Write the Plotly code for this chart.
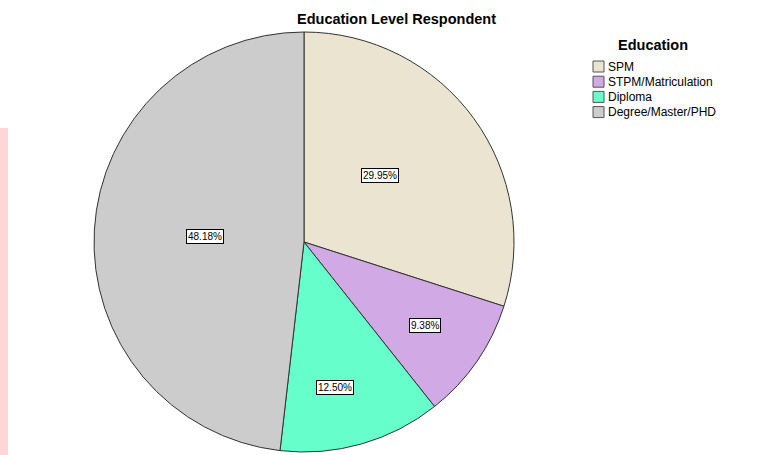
import math
import plotly.graph_objects as go

# Education level of respondents (n = 384)
categories = ["SPM", "STPM/Matriculation", "Diploma", "Degree/Master/PHD"]
counts = [115, 36, 48, 185]
percent_labels = ["29.95%", "9.38%", "12.50%", "48.18%"]
colors = ["#EAE4D0", "#D1A9E4", "#66FFCC", "#CCCCCC"]
# placement of each percentage box: radius as a fraction of the pie radius,
# and a small angular nudge (degrees) away from the slice's middle angle
label_radius = [0.48, 0.70, 0.71, 0.47]
label_nudge = [-5, 0, 4, 0]

W, H = 774, 455
cx, cy, R = 304, 242, 210  # pie centre and radius in pixels
FONT = "Liberation Sans, Arial"

fig = go.Figure(
    go.Pie(
        labels=categories,
        values=counts,
        sort=False,
        direction="clockwise",
        rotation=0,
        textinfo="none",
        hoverinfo="label+percent",
        marker=dict(colors=colors, line=dict(color="#333333", width=1)),
        domain=dict(x=[(cx - R) / W, (cx + R) / W], y=[1 - (cy + R) / H, 1 - (cy - R) / H]),
        showlegend=False,
    )
)

annotations = []
shapes = []

# percentage boxes placed around the middle angle of each slice
total = sum(counts)
start = 0.0
for val, txt, rf, nudge in zip(counts, percent_labels, label_radius, label_nudge):
    frac = val / total
    mid = (start + frac / 2) * 2 * math.pi + math.radians(nudge)
    start += frac
    px = cx + rf * R * math.sin(mid)
    py = cy - rf * R * math.cos(mid)
    annotations.append(dict(
        x=px / W, y=1 - py / H, xref="paper", yref="paper",
        xanchor="center", yanchor="middle",
        text=txt, showarrow=False,
        font=dict(family=FONT, size=10, color="#000000"),
        bgcolor="#FFFFFF", bordercolor="#000000", borderwidth=1, borderpad=1,
    ))

# chart title
annotations.append(dict(
    x=397 / W, y=1 - 19 / H, xref="paper", yref="paper",
    xanchor="center", yanchor="middle",
    text="<b>Education Level Respondent</b>", showarrow=False,
    font=dict(family=FONT, size=14.5, color="#000000"),
))

# legend
annotations.append(dict(
    x=653 / W, y=1 - 45 / H, xref="paper", yref="paper",
    xanchor="center", yanchor="middle",
    text="<b>Education</b>", showarrow=False,
    font=dict(family=FONT, size=14.5, color="#000000"),
))
for i, (cat, col) in enumerate(zip(categories, colors)):
    yc = 66.5 + 15.2 * i
    shapes.append(dict(
        type="rect", xref="paper", yref="paper",
        x0=593 / W, x1=604 / W, y0=1 - (yc + 5.5) / H, y1=1 - (yc - 5.5) / H,
        fillcolor=col, line=dict(color="#555555", width=1),
    ))
    annotations.append(dict(
        x=606 / W, y=1 - yc / H, xref="paper", yref="paper",
        xanchor="left", yanchor="middle",
        text=cat, showarrow=False,
        font=dict(family=FONT, size=12, color="#000000"),
    ))

# pink strip along the left edge
shapes.append(dict(
    type="rect", xref="paper", yref="paper",
    x0=0, x1=8 / W, y0=0, y1=1 - 128 / H,
    fillcolor="#FFD6D6", line=dict(width=0), layer="below",
))

fig.update_layout(
    width=W, height=H,
    margin=dict(l=0, r=0, t=0, b=0),
    paper_bgcolor="#FFFFFF",
    plot_bgcolor="#FFFFFF",
    annotations=annotations,
    shapes=shapes,
)

fig.write_html("out.html")
